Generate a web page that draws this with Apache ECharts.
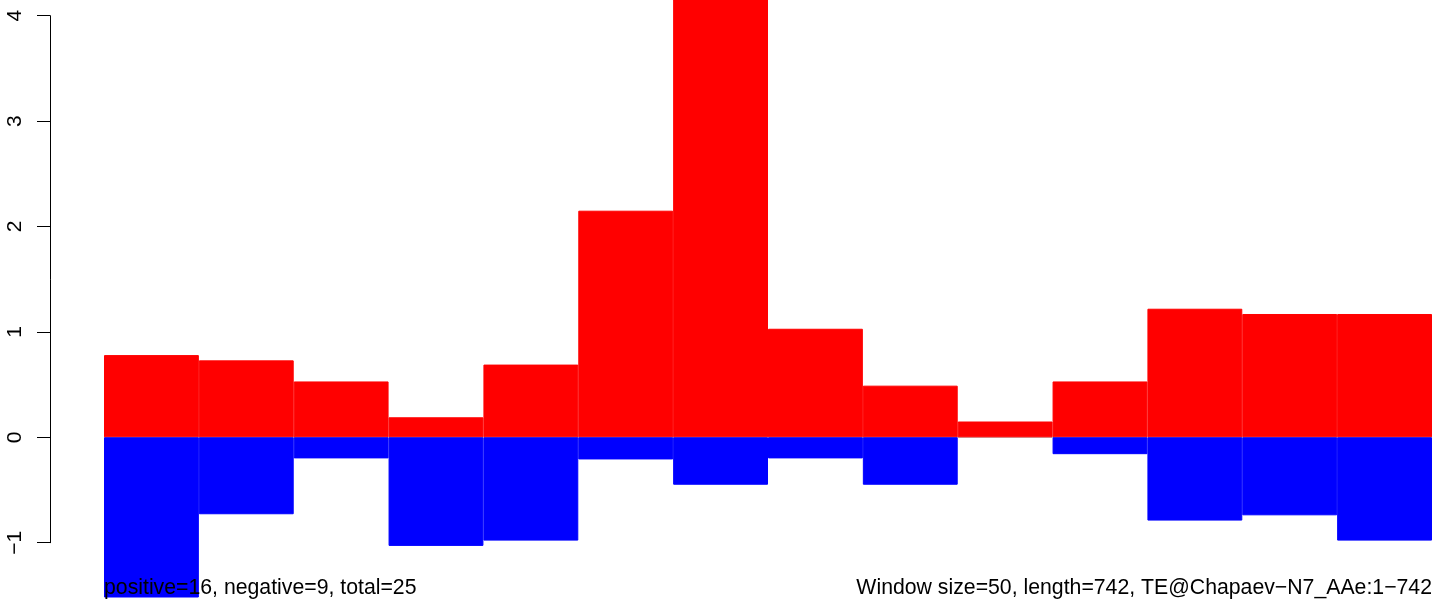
<!DOCTYPE html>
<html>
<head>
<meta charset="utf-8">
<script src="https://cdn.jsdelivr.net/npm/echarts@6/dist/echarts.min.js"></script>
<style>
html,body{margin:0;padding:0;background:#fff;}
#chart{width:1444px;height:602px;}
</style>
</head>
<body>
<div id="chart"></div>
<script>
// Window start positions (window size 50)
const categories = ['1','51','101','151','201','251','301','351','401','451','501','551','601','651'];
const positiveValues = [0.78, 0.73, 0.53, 0.19, 0.69, 2.15, 4.2, 1.03, 0.49, 0.15, 0.53, 1.22, 1.17, 1.17];
const negativeValues = [-1.52, -0.73, -0.2, -1.03, -0.98, -0.21, -0.45, -0.2, -0.45, 0, -0.16, -0.79, -0.74, -0.98];
const yTicks = [-1, 0, 1, 2, 3, 4];
const leftNote = 'positive=16, negative=9, total=25';
const rightNote = 'Window size=50, length=742, TE@Chapaev\u2212N7_AAe:1\u2212742';

const FONT = '"Liberation Sans", Arial, Helvetica, sans-serif';
const chart = echarts.init(document.getElementById('chart'), null, {renderer: 'canvas'});

function barData(values) {
  return values.map(function (v) {
    return v === 0 ? {value: v, itemStyle: {borderWidth: 0, opacity: 0}} : v;
  });
}

chart.setOption({
  animation: false,
  backgroundColor: '#ffffff',
  grid: [
    {left: 104, right: 12, top: 0, bottom: 5},
    {left: 50, width: 10, top: 15.7, bottom: 59.3}
  ],
  xAxis: [
    {type: 'category', gridIndex: 0, data: categories, boundaryGap: true, show: false},
    {type: 'value', gridIndex: 1, show: false, min: 0, max: 1}
  ],
  yAxis: [
    {type: 'value', gridIndex: 0, min: -1.515, max: 4.149, show: false, splitLine: {show: false}},
    {
      type: 'value', gridIndex: 1, min: yTicks[0], max: yTicks[yTicks.length - 1], interval: 1,
      splitLine: {show: false},
      axisLine: {show: true, lineStyle: {color: '#000', width: 1}},
      axisTick: {show: true, length: 13, lineStyle: {color: '#000', width: 1}},
      axisLabel: {
        show: true, rotate: 90, margin: 24, color: '#000', fontSize: 21, fontFamily: FONT,
        formatter: function (v) { return v < 0 ? '\u2212' + Math.abs(v) : String(v); }
      }
    }
  ],
  series: [
    {
      type: 'line', xAxisIndex: 0, yAxisIndex: 0, data: [], z: 0, silent: true,
      markLine: {
        z: 0, symbol: 'none', silent: true, label: {show: false},
        lineStyle: {color: '#bebebe', width: 1, type: 'solid'},
        data: [{yAxis: 0}]
      }
    },
    {
      name: 'positive', type: 'bar', xAxisIndex: 0, yAxisIndex: 0, z: 3,
      data: barData(positiveValues), barWidth: '100%', barGap: '-100%',
      itemStyle: {color: '#ff0000', borderColor: '#ff0000', borderWidth: 1}
    },
    {
      name: 'negative', type: 'bar', xAxisIndex: 0, yAxisIndex: 0, z: 3,
      data: barData(negativeValues), barWidth: '100%', barGap: '-100%',
      itemStyle: {color: '#0000ff', borderColor: '#0000ff', borderWidth: 1}
    }
  ],
  graphic: [
    {
      type: 'text', left: 104, top: 578, z: 100,
      style: {text: leftNote, fill: '#000', font: '21.25px ' + FONT}
    },
    {
      type: 'text', right: 12, top: 578, z: 100,
      style: {text: rightNote, fill: '#000', font: '21.25px ' + FONT}
    }
  ]
});
</script>
</body>
</html>
